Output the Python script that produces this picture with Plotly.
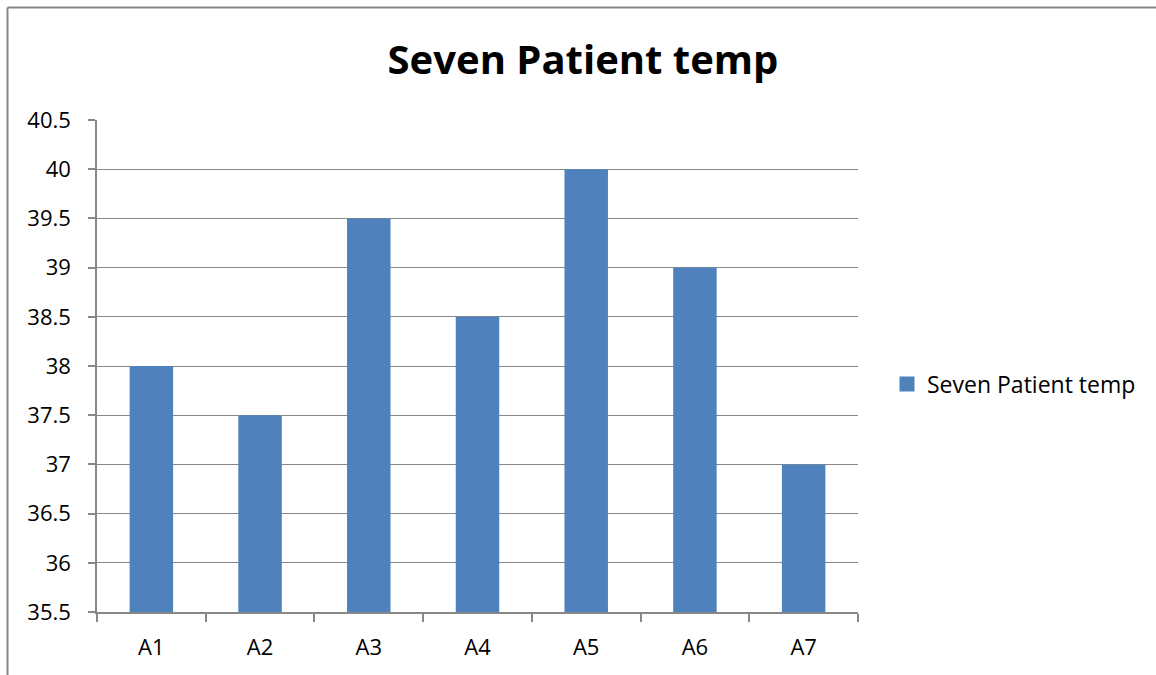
import plotly.graph_objects as go

categories = ["A1", "A2", "A3", "A4", "A5", "A6", "A7"]
temps = [38, 37.5, 39.5, 38.5, 40, 39, 37]
y_ticks = [35.5, 36, 36.5, 37, 37.5, 38, 38.5, 39, 39.5, 40, 40.5]
series_name = "Seven Patient temp"
axis_base = 35.5

W, H = 1156, 675
L, R, T, B = 97, 858, 120, 612
pw, ph = R - L, B - T


def px(x):
    return (x - L) / pw


def py(y):
    return (B - y) / ph


FONT = "Open Sans"
GRAY = "#878787"
BLUE = "#4F81BD"
FS = 22

fig = go.Figure()
fig.add_trace(go.Bar(
    x=categories, y=[t - axis_base for t in temps], base=axis_base,
    name=series_name, showlegend=False,
    marker=dict(color=BLUE, line=dict(width=0)),
    hoverinfo="skip",
))
# legend entry with a larger square swatch
fig.add_trace(go.Scatter(
    x=[None], y=[None], mode="markers", name=series_name, showlegend=True,
    marker=dict(symbol="square", size=15, color=BLUE, line=dict(width=0)),
))

fig.update_layout(
    width=W, height=H,
    margin=dict(l=L, r=W - R, t=T, b=H - B, pad=0),
    paper_bgcolor="white", plot_bgcolor="white",
    title=dict(text="<b>Seven Patient temp</b>", xref="paper", x=px(583),
               xanchor="center", yref="container", y=1 - 60 / H, yanchor="middle",
               font=dict(family=FONT, size=40, color="black")),
    showlegend=True,
    legend=dict(x=px(887), y=py(384), xanchor="left", yanchor="middle",
                font=dict(family=FONT, size=23, color="black"),
                bgcolor="rgba(0,0,0,0)", itemwidth=30),
    bargap=0.6,
    font=dict(family=FONT, size=FS, color="black"),
)
fig.update_xaxes(
    type="category", showgrid=False, showline=True, linecolor=GRAY, linewidth=1.5,
    ticks="outside", ticklen=8, tickcolor=GRAY, tickwidth=1.5,
    tickson="boundaries", tickfont=dict(family=FONT, size=FS, color="black"),
    ticklabelstandoff=15,
)
fig.update_yaxes(
    range=[35.5, 40.5], tickvals=y_ticks, ticktext=[f"{v:g}" for v in y_ticks],
    showgrid=True, gridcolor=GRAY, gridwidth=1.2,
    showline=True, linecolor=GRAY, linewidth=1.5,
    ticks="outside", ticklen=7, tickcolor=GRAY, tickwidth=1.5,
    tickfont=dict(family=FONT, size=FS, color="black"), zeroline=False,
    ticklabelstandoff=13,
)
# chart border (left and top edges visible)
fig.add_shape(type="line", xref="paper", yref="paper",
              x0=px(7.5), x1=px(W + 5), y0=py(7.5), y1=py(7.5),
              line=dict(color=GRAY, width=2))
fig.add_shape(type="line", xref="paper", yref="paper",
              x0=px(7.5), x1=px(7.5), y0=py(7.5), y1=py(H + 5),
              line=dict(color=GRAY, width=2))

fig.write_html("out.html", config={"displayModeBar": False},
               post_script="document.body.style.margin='0px';")
